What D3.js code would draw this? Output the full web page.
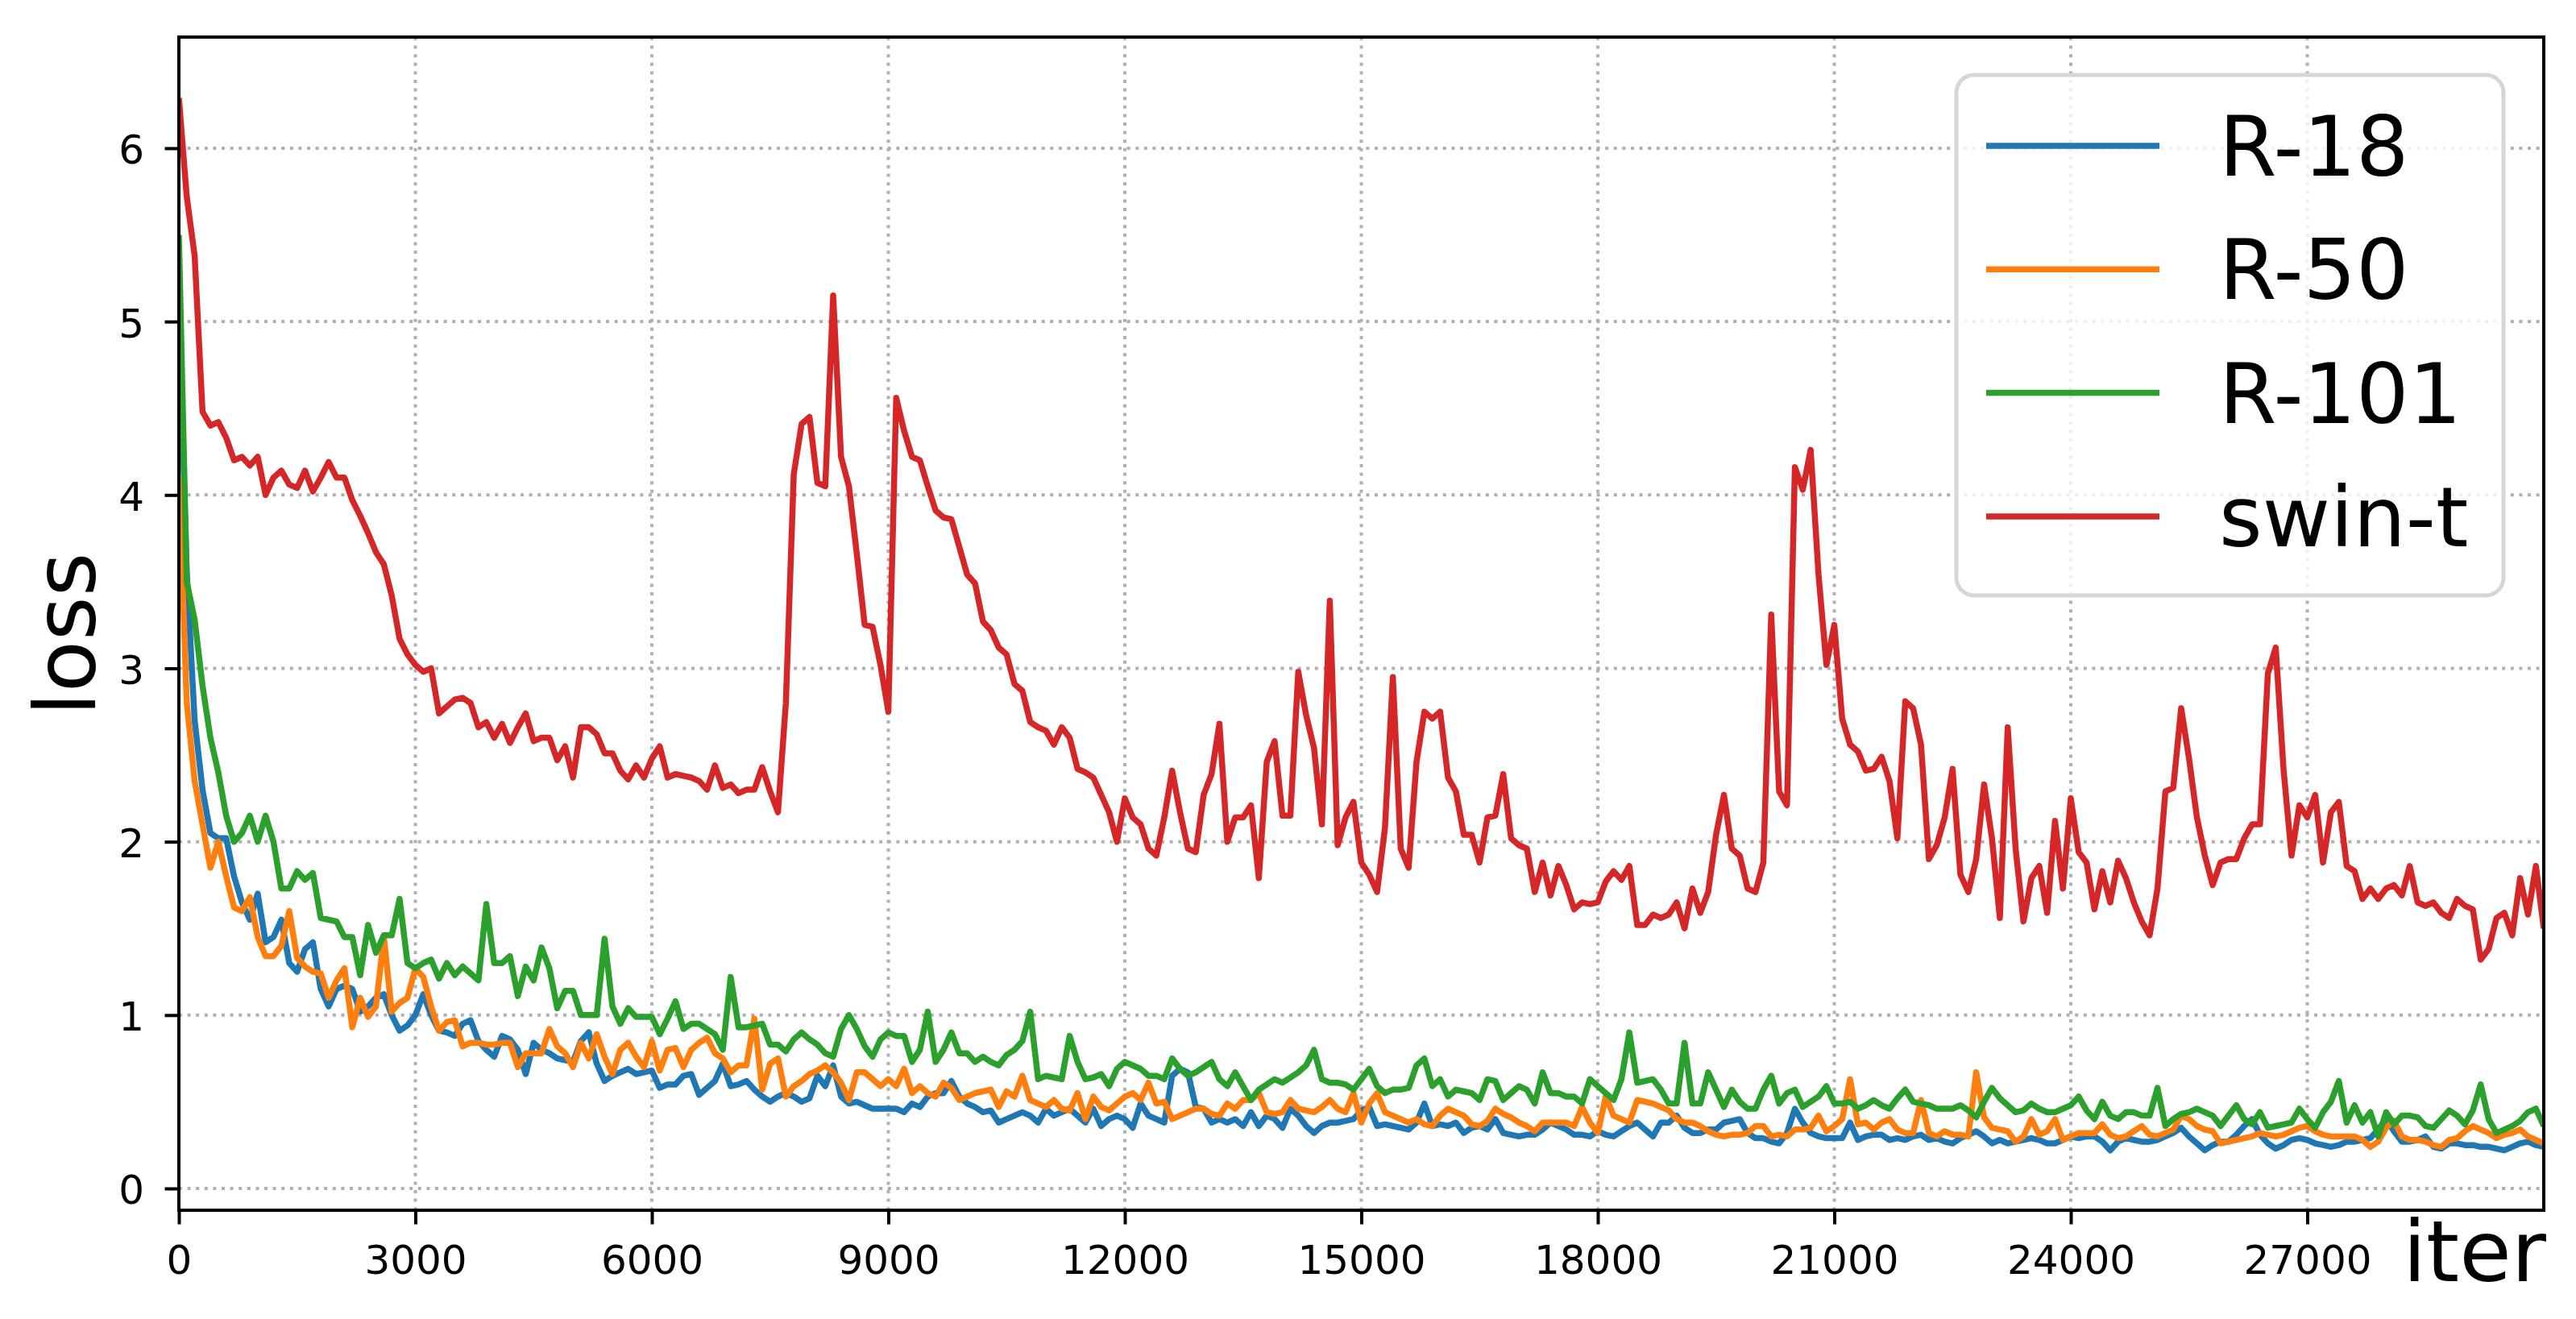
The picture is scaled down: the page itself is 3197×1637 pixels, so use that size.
<!DOCTYPE html>
<meta charset="utf-8">
<style>

body {
  margin: 0;
  background: #fff;
}

svg {
  display: block;
  font-family: "DejaVu Sans", sans-serif;
}

.grid line {
  stroke: #b0b0b0;
  stroke-width: 4px;
  stroke-dasharray: 4 6.6;
}

.line {
  fill: none;
  stroke-width: 7.5px;
  stroke-linejoin: round;
}

.axis text {
  font-family: "DejaVu Sans", sans-serif;
  font-size: 50px;
  fill: #000;
}

.axis line {
  stroke: #000;
  stroke-width: 4px;
}

</style>
<svg width="3197" height="1637"></svg>
<script src="https://d3js.org/d3.v7.min.js"></script>
<script>

// one loss value every 100 iterations, 0 .. 30000
var step = 100;

var names = ["R-18", "R-50", "R-101", "swin-t"];

var r18 = [
  5.05, 3.55, 2.70, 2.30, 2.05, 2.02, 2.02, 1.80, 1.65, 1.55,
  1.70, 1.42, 1.45, 1.55, 1.30, 1.25, 1.38, 1.42, 1.15, 1.05,
  1.15, 1.17, 1.15, 1.02, 1.05, 1.10, 1.12, 1.00, 0.91, 0.94,
  1.00, 1.12, 1.00, 0.91, 0.90, 0.88, 0.95, 0.97, 0.85, 0.80,
  0.76, 0.88, 0.86, 0.80, 0.66, 0.84, 0.80, 0.78, 0.75, 0.74,
  0.73, 0.85, 0.90, 0.72, 0.62, 0.65, 0.67, 0.69, 0.66, 0.67,
  0.68, 0.58, 0.60, 0.60, 0.65, 0.66, 0.54, 0.58, 0.62, 0.72,
  0.59, 0.60, 0.62, 0.57, 0.53, 0.50, 0.53, 0.55, 0.53, 0.50,
  0.52, 0.65, 0.59, 0.71, 0.53, 0.49, 0.50, 0.48, 0.46, 0.46,
  0.46, 0.46, 0.44, 0.49, 0.47, 0.53, 0.55, 0.55, 0.62, 0.53,
  0.49, 0.47, 0.44, 0.45, 0.38, 0.40, 0.42, 0.44, 0.42, 0.38,
  0.46, 0.42, 0.44, 0.46, 0.42, 0.38, 0.46, 0.36, 0.40, 0.42,
  0.40, 0.35, 0.49, 0.42, 0.40, 0.38, 0.65, 0.69, 0.67, 0.47,
  0.46, 0.38, 0.40, 0.38, 0.40, 0.36, 0.44, 0.36, 0.42, 0.40,
  0.35, 0.46, 0.42, 0.36, 0.32, 0.36, 0.38, 0.38, 0.39, 0.40,
  0.45, 0.47, 0.36, 0.37, 0.36, 0.35, 0.34, 0.38, 0.49, 0.36,
  0.37, 0.36, 0.38, 0.32, 0.35, 0.36, 0.34, 0.40, 0.32, 0.31,
  0.30, 0.31, 0.31, 0.34, 0.38, 0.36, 0.34, 0.31, 0.31, 0.30,
  0.33, 0.31, 0.30, 0.33, 0.36, 0.38, 0.34, 0.30, 0.38, 0.38,
  0.42, 0.35, 0.32, 0.32, 0.34, 0.34, 0.38, 0.39, 0.40, 0.32,
  0.29, 0.29, 0.27, 0.26, 0.32, 0.46, 0.38, 0.32, 0.30, 0.29,
  0.29, 0.29, 0.38, 0.28, 0.30, 0.31, 0.31, 0.28, 0.29, 0.28,
  0.30, 0.31, 0.28, 0.29, 0.27, 0.26, 0.29, 0.31, 0.33, 0.30,
  0.26, 0.28, 0.26, 0.27, 0.28, 0.29, 0.28, 0.26, 0.26, 0.28,
  0.30, 0.29, 0.30, 0.30, 0.27, 0.22, 0.27, 0.29, 0.28, 0.27,
  0.27, 0.28, 0.30, 0.32, 0.35, 0.30, 0.26, 0.22, 0.25, 0.27,
  0.27, 0.31, 0.36, 0.40, 0.31, 0.26, 0.23, 0.25, 0.28, 0.29,
  0.28, 0.26, 0.25, 0.24, 0.25, 0.27, 0.27, 0.28, 0.29, 0.34,
  0.40, 0.33, 0.27, 0.27, 0.28, 0.30, 0.24, 0.23, 0.26, 0.26,
  0.25, 0.25, 0.24, 0.24, 0.23, 0.22, 0.24, 0.26, 0.27, 0.25,
  0.24
];

var r50 = [
  4.10, 2.80, 2.35, 2.10, 1.85, 2.00, 1.80, 1.62, 1.60, 1.68,
  1.45, 1.34, 1.34, 1.40, 1.60, 1.33, 1.28, 1.25, 1.24, 1.10,
  1.20, 1.27, 0.93, 1.10, 0.99, 1.05, 1.45, 1.02, 1.07, 1.10,
  1.27, 1.22, 1.05, 0.91, 0.96, 0.97, 0.82, 0.84, 0.84, 0.83,
  0.83, 0.84, 0.84, 0.70, 0.78, 0.78, 0.78, 0.92, 0.82, 0.78,
  0.70, 0.84, 0.75, 0.89, 0.76, 0.66, 0.80, 0.84, 0.76, 0.70,
  0.85, 0.68, 0.80, 0.81, 0.70, 0.80, 0.84, 0.87, 0.78, 0.75,
  0.67, 0.71, 0.71, 0.98, 0.57, 0.72, 0.75, 0.53, 0.59, 0.62,
  0.66, 0.68, 0.71, 0.67, 0.61, 0.51, 0.67, 0.67, 0.63, 0.59,
  0.63, 0.59, 0.69, 0.55, 0.59, 0.55, 0.53, 0.61, 0.58, 0.51,
  0.53, 0.55, 0.56, 0.57, 0.47, 0.56, 0.53, 0.65, 0.51, 0.49,
  0.47, 0.51, 0.46, 0.45, 0.55, 0.40, 0.53, 0.47, 0.45, 0.49,
  0.53, 0.55, 0.51, 0.61, 0.49, 0.50, 0.40, 0.42, 0.44, 0.46,
  0.46, 0.43, 0.42, 0.49, 0.46, 0.51, 0.51, 0.55, 0.44, 0.43,
  0.44, 0.51, 0.46, 0.45, 0.44, 0.47, 0.51, 0.46, 0.44, 0.55,
  0.38, 0.49, 0.55, 0.44, 0.42, 0.40, 0.38, 0.40, 0.37, 0.36,
  0.42, 0.46, 0.44, 0.42, 0.37, 0.36, 0.39, 0.46, 0.43, 0.41,
  0.38, 0.36, 0.33, 0.38, 0.38, 0.38, 0.38, 0.36, 0.47, 0.38,
  0.32, 0.53, 0.42, 0.40, 0.38, 0.51, 0.50, 0.49, 0.47, 0.45,
  0.40, 0.38, 0.38, 0.36, 0.33, 0.31, 0.30, 0.31, 0.31, 0.32,
  0.36, 0.36, 0.30, 0.31, 0.30, 0.34, 0.34, 0.35, 0.42, 0.33,
  0.36, 0.40, 0.63, 0.37, 0.38, 0.34, 0.38, 0.40, 0.34, 0.32,
  0.32, 0.51, 0.32, 0.30, 0.33, 0.31, 0.31, 0.30, 0.67, 0.41,
  0.35, 0.34, 0.33, 0.27, 0.30, 0.40, 0.31, 0.33, 0.40, 0.28,
  0.30, 0.32, 0.32, 0.32, 0.37, 0.31, 0.29, 0.30, 0.33, 0.36,
  0.31, 0.30, 0.32, 0.34, 0.42, 0.40, 0.36, 0.34, 0.33, 0.26,
  0.27, 0.28, 0.29, 0.30, 0.32, 0.31, 0.30, 0.31, 0.33, 0.35,
  0.36, 0.33, 0.31, 0.30, 0.30, 0.30, 0.30, 0.28, 0.24, 0.27,
  0.35, 0.39, 0.30, 0.28, 0.28, 0.27, 0.25, 0.24, 0.28, 0.29,
  0.33, 0.36, 0.34, 0.32, 0.29, 0.31, 0.32, 0.34, 0.30, 0.28,
  0.26
];

var r101 = [
  5.50, 3.50, 3.28, 2.90, 2.60, 2.40, 2.15, 2.00, 2.05, 2.15,
  2.00, 2.15, 2.00, 1.73, 1.73, 1.83, 1.78, 1.82, 1.56, 1.55,
  1.54, 1.45, 1.45, 1.23, 1.52, 1.36, 1.46, 1.46, 1.67, 1.30,
  1.27, 1.30, 1.32, 1.21, 1.30, 1.23, 1.28, 1.24, 1.20, 1.64,
  1.30, 1.30, 1.34, 1.11, 1.28, 1.20, 1.39, 1.27, 1.04, 1.14,
  1.14, 1.00, 1.00, 1.00, 1.44, 1.05, 0.95, 1.04, 0.99, 0.99,
  0.99, 0.89, 0.98, 1.08, 0.92, 0.95, 0.95, 0.92, 0.89, 0.80,
  1.22, 0.93, 0.93, 0.94, 0.95, 0.83, 0.83, 0.79, 0.86, 0.90,
  0.86, 0.83, 0.78, 0.76, 0.92, 1.00, 0.92, 0.82, 0.76, 0.86,
  0.90, 0.88, 0.88, 0.73, 0.80, 1.02, 0.73, 0.80, 0.90, 0.78,
  0.78, 0.73, 0.76, 0.73, 0.71, 0.77, 0.80, 0.85, 1.02, 0.63,
  0.65, 0.64, 0.63, 0.88, 0.73, 0.63, 0.64, 0.66, 0.59, 0.69,
  0.73, 0.71, 0.69, 0.65, 0.65, 0.63, 0.75, 0.69, 0.65, 0.67,
  0.70, 0.73, 0.63, 0.59, 0.67, 0.59, 0.51, 0.57, 0.60, 0.63,
  0.61, 0.64, 0.67, 0.71, 0.80, 0.63, 0.61, 0.61, 0.60, 0.57,
  0.63, 0.69, 0.59, 0.55, 0.57, 0.57, 0.58, 0.71, 0.75, 0.59,
  0.63, 0.53, 0.57, 0.56, 0.55, 0.51, 0.63, 0.62, 0.51, 0.55,
  0.59, 0.57, 0.49, 0.67, 0.55, 0.55, 0.53, 0.53, 0.49, 0.63,
  0.59, 0.55, 0.51, 0.63, 0.90, 0.61, 0.62, 0.63, 0.57, 0.49,
  0.49, 0.84, 0.49, 0.49, 0.67, 0.57, 0.47, 0.57, 0.50, 0.46,
  0.46, 0.57, 0.65, 0.49, 0.55, 0.57, 0.47, 0.50, 0.53, 0.59,
  0.49, 0.49, 0.50, 0.46, 0.48, 0.51, 0.48, 0.46, 0.52, 0.57,
  0.50, 0.49, 0.48, 0.46, 0.46, 0.46, 0.48, 0.45, 0.41, 0.50,
  0.58, 0.52, 0.48, 0.44, 0.45, 0.49, 0.46, 0.44, 0.44, 0.46,
  0.48, 0.53, 0.45, 0.40, 0.50, 0.42, 0.40, 0.44, 0.44, 0.42,
  0.42, 0.58, 0.36, 0.40, 0.43, 0.44, 0.46, 0.44, 0.42, 0.36,
  0.42, 0.48, 0.40, 0.37, 0.44, 0.35, 0.36, 0.37, 0.38, 0.46,
  0.40, 0.35, 0.44, 0.50, 0.62, 0.38, 0.48, 0.38, 0.44, 0.30,
  0.44, 0.37, 0.42, 0.42, 0.41, 0.36, 0.35, 0.40, 0.45, 0.42,
  0.37, 0.45, 0.60, 0.40, 0.32, 0.34, 0.36, 0.39, 0.44, 0.46,
  0.36
];

var swinT = [
  6.29, 5.72, 5.38, 4.48, 4.40, 4.42, 4.33, 4.20, 4.22, 4.17,
  4.22, 4.00, 4.10, 4.14, 4.06, 4.04, 4.14, 4.02, 4.10, 4.19,
  4.10, 4.10, 3.97, 3.88, 3.78, 3.67, 3.60, 3.42, 3.17, 3.08,
  3.02, 2.98, 3.00, 2.74, 2.78, 2.82, 2.83, 2.80, 2.66, 2.69,
  2.60, 2.68, 2.57, 2.66, 2.74, 2.58, 2.60, 2.60, 2.47, 2.55,
  2.37, 2.66, 2.66, 2.62, 2.51, 2.51, 2.41, 2.36, 2.44, 2.37,
  2.48, 2.55, 2.37, 2.39, 2.38, 2.37, 2.35, 2.30, 2.44, 2.31,
  2.33, 2.28, 2.30, 2.30, 2.43, 2.29, 2.17, 2.80, 4.12, 4.41,
  4.45, 4.07, 4.05, 5.15, 4.22, 4.05, 3.66, 3.25, 3.24, 3.02,
  2.75, 4.56, 4.37, 4.22, 4.20, 4.05, 3.91, 3.87, 3.86, 3.70,
  3.54, 3.49, 3.27, 3.22, 3.12, 3.08, 2.91, 2.87, 2.69, 2.66,
  2.64, 2.56, 2.66, 2.60, 2.42, 2.40, 2.37, 2.27, 2.17, 2.00,
  2.25, 2.14, 2.10, 1.96, 1.92, 2.14, 2.41, 2.17, 1.96, 1.94,
  2.27, 2.39, 2.68, 2.00, 2.14, 2.14, 2.21, 1.79, 2.46, 2.58,
  2.15, 2.15, 2.98, 2.73, 2.54, 2.10, 3.39, 1.98, 2.14, 2.23,
  1.88, 1.81, 1.71, 2.08, 2.95, 1.96, 1.85, 2.46, 2.75, 2.71,
  2.75, 2.37, 2.29, 2.04, 2.04, 1.88, 2.14, 2.15, 2.39, 2.02,
  1.98, 1.96, 1.71, 1.88, 1.69, 1.86, 1.75, 1.61, 1.65, 1.64,
  1.65, 1.77, 1.83, 1.78, 1.86, 1.52, 1.52, 1.58, 1.56, 1.58,
  1.65, 1.50, 1.73, 1.59, 1.71, 2.04, 2.27, 1.96, 1.92, 1.73,
  1.71, 1.88, 3.31, 2.29, 2.21, 4.16, 4.03, 4.26, 3.54, 3.02,
  3.25, 2.71, 2.56, 2.52, 2.41, 2.42, 2.49, 2.35, 2.02, 2.81,
  2.77, 2.56, 1.90, 1.98, 2.14, 2.42, 1.81, 1.71, 1.90, 2.33,
  2.02, 1.56, 2.66, 1.96, 1.54, 1.79, 1.86, 1.59, 2.12, 1.73,
  2.25, 1.94, 1.88, 1.61, 1.83, 1.65, 1.89, 1.79, 1.65, 1.54,
  1.46, 1.73, 2.29, 2.31, 2.77, 2.48, 2.14, 1.92, 1.75, 1.88,
  1.90, 1.90, 2.02, 2.10, 2.10, 2.97, 3.12, 2.41, 1.92, 2.21,
  2.14, 2.27, 1.88, 2.17, 2.23, 1.86, 1.83, 1.67, 1.73, 1.67,
  1.73, 1.75, 1.69, 1.86, 1.65, 1.63, 1.65, 1.59, 1.56, 1.67,
  1.63, 1.61, 1.32, 1.38, 1.56, 1.59, 1.46, 1.79, 1.58, 1.86,
  1.50
];

var xTicks = [0, 3000, 6000, 9000, 12000, 15000, 18000, 21000, 24000, 27000];
var yTicks = [0, 1, 2, 3, 4, 5, 6];

var colors = ["#1f77b4", "#ff7f0e", "#2ca02c", "#d62728"];

var svg = d3.select("svg"),
    margin = {top: 46, right: 40, bottom: 135, left: 222},
    width = svg.attr("width") - margin.left - margin.right,
    height = svg.attr("height") - margin.top - margin.bottom,
    g = svg.append("g").attr("transform", "translate(" + margin.left + "," + margin.top + ")");

var x = d3.scaleLinear().domain([0, 30000]).range([0, width]),
    y = d3.scaleLinear().domain([-0.1255, 6.641]).range([height, 0]);

var series = [r18, r50, r101, swinT].map(function(values, i) {
  return {
    id: names[i],
    color: colors[i],
    values: values.map(function(v, j) { return {iter: j * step, loss: v}; })
  };
});

svg.append("defs").append("clipPath")
    .attr("id", "clip")
  .append("rect")
    .attr("width", width)
    .attr("height", height);

// grid
g.append("g")
    .attr("class", "grid")
  .selectAll("line")
  .data(xTicks)
  .enter().append("line")
    .attr("x1", function(d) { return x(d); })
    .attr("x2", function(d) { return x(d); })
    .attr("y1", 0)
    .attr("y2", height);

g.append("g")
    .attr("class", "grid")
  .selectAll("line")
  .data(yTicks)
  .enter().append("line")
    .attr("x1", 0)
    .attr("x2", width)
    .attr("y1", function(d) { return y(d); })
    .attr("y2", function(d) { return y(d); });

var line = d3.line()
    .x(function(d) { return x(d.iter); })
    .y(function(d) { return y(d.loss); });

g.append("g")
    .attr("clip-path", "url(#clip)")
  .selectAll(".line")
  .data(series)
  .enter().append("path")
    .attr("class", "line")
    .attr("d", function(d) { return line(d.values); })
    .style("stroke", function(d) { return d.color; });

// axes
var xAxis = g.append("g")
    .attr("class", "axis axis--x")
    .attr("transform", "translate(0," + height + ")")
    .call(d3.axisBottom(x).tickValues(xTicks).tickFormat(d3.format("d"))
      .tickSizeInner(17.5).tickSizeOuter(0).tickPadding(26));
xAxis.select(".domain").remove();
xAxis.attr("font-family", null).attr("font-size", null);

var yAxis = g.append("g")
    .attr("class", "axis axis--y")
    .call(d3.axisLeft(y).tickValues(yTicks).tickFormat(d3.format("d"))
      .tickSizeInner(17.5).tickSizeOuter(0).tickPadding(25.5));
yAxis.select(".domain").remove();
yAxis.attr("font-family", null).attr("font-size", null);
yAxis.selectAll("text").attr("dy", "0.38em");

// spines
g.append("rect")
    .attr("width", width)
    .attr("height", height)
    .attr("fill", "none")
    .attr("stroke", "#000")
    .attr("stroke-width", 4);

svg.append("text")
    .attr("transform", "translate(118,787) rotate(-90)")
    .attr("text-anchor", "middle")
    .style("font-size", "105px")
    .text("loss");

svg.append("text")
    .attr("x", 3160)
    .attr("y", 1590)
    .attr("text-anchor", "end")
    .style("font-size", "105px")
    .text("iter");

// legend
var legend = svg.append("g")
    .attr("transform", "translate(2428,93)");

legend.append("rect")
    .attr("width", 679)
    .attr("height", 646)
    .attr("rx", 22)
    .attr("ry", 22)
    .attr("fill", "rgba(255,255,255,0.8)")
    .attr("stroke", "#d6d6d6")
    .attr("stroke-width", 5);

var item = legend.selectAll(".item")
  .data(series)
  .enter().append("g")
    .attr("class", "item")
    .attr("transform", function(d, i) { return "translate(0," + (88 + i * 153.3) + ")"; });

item.append("line")
    .attr("x1", 37)
    .attr("x2", 252)
    .attr("stroke-width", 7.5)
    .attr("stroke", function(d) { return d.color; });

item.append("text")
    .attr("x", 326)
    .attr("y", 37)
    .style("font-size", "103px")
    .text(function(d) { return d.id; });

</script>
